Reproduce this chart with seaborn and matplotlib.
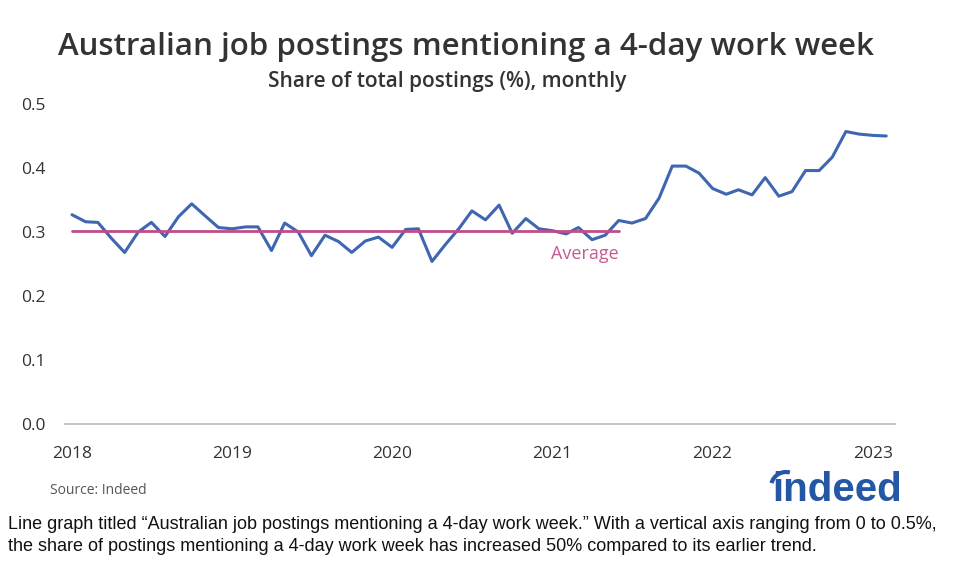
import matplotlib
matplotlib.use("Agg")
import matplotlib.pyplot as plt
import matplotlib.dates as mdates
from matplotlib.patches import Arc
import numpy as np
import pandas as pd
import seaborn as sns

# monthly share of postings (%), Jan 2018 - Feb 2023
months = pd.date_range("2018-01-01", "2023-02-01", freq="MS")
share = [
    0.327, 0.316, 0.315, 0.290, 0.268, 0.300, 0.315, 0.293, 0.324, 0.344, 0.325, 0.307,  # 2018
    0.305, 0.308, 0.308, 0.271, 0.314, 0.300, 0.263, 0.295, 0.285, 0.268, 0.286, 0.292,  # 2019
    0.276, 0.304, 0.305, 0.254, 0.280, 0.305, 0.333, 0.319, 0.342, 0.298, 0.321, 0.305,  # 2020
    0.302, 0.297, 0.307, 0.288, 0.295, 0.318, 0.314, 0.321, 0.353, 0.403, 0.403, 0.392,  # 2021
    0.368, 0.359, 0.366, 0.358, 0.385, 0.356, 0.363, 0.396, 0.396, 0.417, 0.457, 0.453,  # 2022
    0.451, 0.450,  # 2023
]
average = 0.302
avg_start, avg_end = "2018-01-01", "2021-06-01"

df = pd.DataFrame({"month": months, "share": share})

sns.set_theme(style="white")
plt.rcParams["font.family"] = ["Open Sans", "DejaVu Sans"]

fig = plt.figure(figsize=(9.6, 5.77), dpi=100)
ax = fig.add_axes([65 / 960, 1 - 424 / 577, 830 / 960, 320 / 577])

sns.lineplot(data=df, x="month", y="share", ax=ax, color="#3F66B0", linewidth=2.2)
ax.plot(pd.to_datetime([avg_start, avg_end]), [average, average], color="#BE4E8A", linewidth=2)
ax.text(pd.Timestamp(avg_end), 0.266, "Average", color="#C45C94", fontsize=13,
        ha="right", va="center")

ax.set_ylim(0, 0.5)
ax.set_xlim(pd.Timestamp("2017-12-16"), pd.Timestamp("2023-02-21"))
ax.set_yticks([0.0, 0.1, 0.2, 0.3, 0.4, 0.5])
ax.set_yticklabels(["0.0", "0.1", "0.2", "0.3", "0.4", "0.5"])
ax.xaxis.set_major_locator(mdates.YearLocator())
ax.xaxis.set_major_formatter(mdates.DateFormatter("%Y"))
ax.tick_params(axis="y", length=0, pad=14, labelsize=12.5, labelcolor="#333333")
ax.tick_params(axis="x", length=0, pad=16, labelsize=12.5, labelcolor="#333333")
ax.set_xlabel("")
ax.set_ylabel("")
for side in ["top", "right", "left"]:
    ax.spines[side].set_visible(False)
ax.spines["bottom"].set_color("#BBBBBB")
ax.spines["bottom"].set_linewidth(1.2)
ax.grid(False)

fig.text(466 / 960, 1 - 47 / 577, "Australian job postings mentioning a 4-day work week",
         ha="center", va="center", fontsize=22.5, fontweight="semibold", color="#333333")
fig.text(447 / 960, 1 - 81 / 577, "Share of total postings (%), monthly",
         ha="center", va="center", fontsize=15, fontweight="semibold", color="#333333")
fig.text(50 / 960, 1 - 491 / 577, "Source: Indeed", ha="left", va="center",
         fontsize=10, color="#555555")

# indeed logo
fig.text(772 / 960, 1 - 501 / 577, "indeed", ha="left", va="baseline",
         fontsize=29, fontweight="bold", color="#2557A7", family="Liberation Sans")
logo = fig.add_axes([760 / 960, 80 / 577, 40 / 960, 35 / 577])
logo.add_patch(Arc((786, 90), 30, 30, theta1=75, theta2=165, color="#2557A7", linewidth=3))
logo.set_xlim(760, 800)
logo.set_ylim(80, 115)
logo.axis("off")

caption = ("Line graph titled \u201cAustralian job postings mentioning a 4-day work week.\u201d "
           "With a vertical axis ranging from 0 to 0.5%,\n"
           "the share of postings mentioning a 4-day work week has increased 50% compared "
           "to its earlier trend.")
fig.text(8 / 960, 1 - 516 / 577, caption, ha="left", va="top", fontsize=13,
         color="#111111", family="Liberation Sans", linespacing=1.35)

fig.savefig("out.png", dpi=100, facecolor="white")
